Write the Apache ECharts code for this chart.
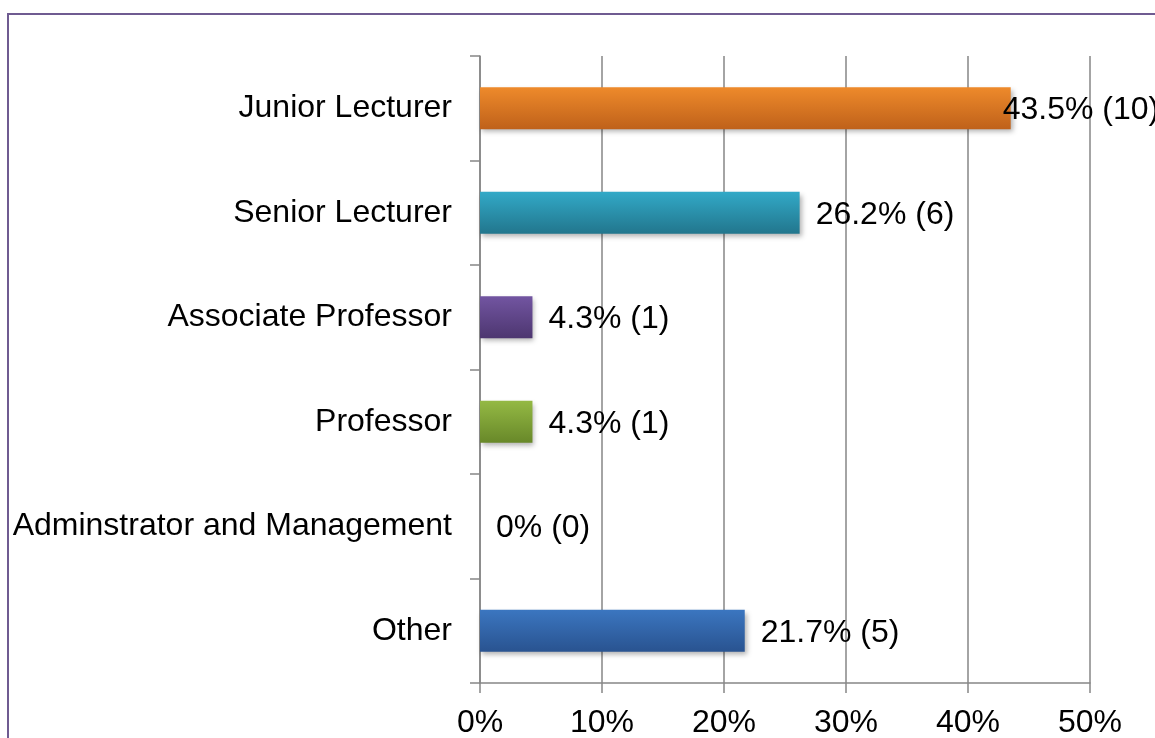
<!DOCTYPE html>
<html>
<head>
<meta charset="utf-8">
<style>
html,body{margin:0;padding:0;background:#fff;}
#chart{width:1155px;height:738px;}
</style>
<script src="https://cdn.jsdelivr.net/npm/echarts@6/dist/echarts.min.js"></script>
</head>
<body>
<div id="chart"></div>
<script>
const categories = ['Junior Lecturer', 'Senior Lecturer', 'Associate Professor', 'Professor', 'Adminstrator and Management', 'Other'];
const percents = [43.5, 26.2, 4.3, 4.3, 0, 21.7];
const counts = [10, 6, 1, 1, 0, 5];
const xTicks = [0, 10, 20, 30, 40, 50];
const colorTop = ['#EE8A2B', '#32A9C7', '#7255A1', '#94B944', '#3B76C0'];
const colorBottom = ['#BF611A', '#22768D', '#4D3670', '#688829', '#295390'];
const barColorIndex = [0, 1, 2, 3, 4, 4];

function grad(i) {
  return new echarts.graphic.LinearGradient(0, 0, 0, 1, [
    {offset: 0, color: colorTop[i]},
    {offset: 1, color: colorBottom[i]}
  ]);
}

const FONT = '"Liberation Sans", Arial, sans-serif';
const data = percents.map((v, i) => {
  const item = {
    value: v,
    itemStyle: {color: grad(barColorIndex[i])},
    label: {formatter: (v === 0 ? '0' : v.toFixed(1)) + '% (' + counts[i] + ')', offset: [0, 2]}
  };
  if (i === 0) item.label.offset = [-24, 2];
  return item;
});

const chart = echarts.init(document.getElementById('chart'));
chart.setOption({
  animation: false,
  backgroundColor: '#fff',
  graphic: [{
    type: 'rect',
    shape: {x: 8, y: 14, width: 1300, height: 900},
    style: {fill: 'none', stroke: '#6F5B91', lineWidth: 2},
    silent: true,
    z: 100
  }],
  grid: {left: 480, right: 65, top: 56, bottom: 55, containLabel: false, outerBoundsMode: 'none'},
  xAxis: {
    type: 'value',
    min: xTicks[0],
    max: xTicks[xTicks.length - 1],
    interval: 10,
    axisLine: {show: true, lineStyle: {color: '#868686', width: 1.5}},
    axisTick: {show: true, length: 10, lineStyle: {color: '#868686', width: 1.5}},
    splitLine: {show: true, lineStyle: {color: '#868686', width: 1.5}},
    axisLabel: {
      formatter: '{value}%',
      color: '#000',
      fontSize: 32,
      fontFamily: FONT,
      margin: 24
    }
  },
  yAxis: {
    type: 'category',
    data: categories,
    inverse: true,
    axisLine: {show: true, lineStyle: {color: '#868686', width: 1.5}},
    axisTick: {show: true, length: 10, alignWithLabel: false, lineStyle: {color: '#868686', width: 1.5}},
    axisLabel: {
      color: '#000',
      fontSize: 32,
      fontFamily: FONT,
      margin: 28,
      padding: [4, 0, 0, 0]
    }
  },
  series: [{
    type: 'bar',
    data: data,
    barWidth: 42,
    itemStyle: {
      shadowBlur: 5,
      shadowOffsetX: 2,
      shadowOffsetY: 3,
      shadowColor: 'rgba(0,0,0,0.3)'
    },
    label: {
      show: true,
      position: 'right',
      distance: 16,
      color: '#000',
      fontSize: 32,
      fontFamily: FONT
    }
  }]
});
</script>
</body>
</html>
